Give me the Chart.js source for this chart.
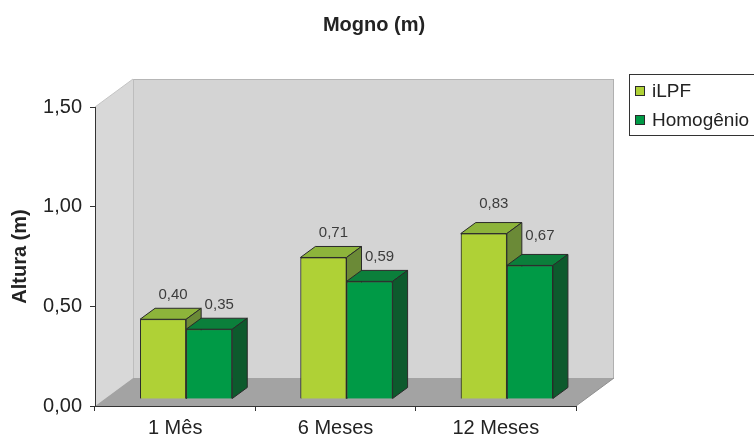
<!DOCTYPE html>
<html>
<head>
<meta charset="utf-8">
<script src="https://cdn.jsdelivr.net/npm/chart.js@4/dist/chart.umd.min.js"></script>
<style>
  html, body { margin: 0; padding: 0; background: #ffffff; overflow: hidden; }
  #wrap { width: 754px; height: 436px; position: relative; }
</style>
</head>
<body>
<div id="wrap"><canvas id="chart" width="754" height="436"></canvas></div>
<script>
// ---- data ----
const categories = ['1 Mês', '6 Meses', '12 Meses'];
const seriesNames = ['iLPF', 'Homogênio'];
const ilpfValues = [0.40, 0.71, 0.83];
const homogenioValues = [0.35, 0.59, 0.67];
const yTickValues = [0, 0.5, 1.0, 1.5];
const chartTitle = 'Mogno (m)';
const yAxisTitle = 'Altura (m)';

// ---- style ----
const FONT = "'Liberation Sans', Arial, Helvetica, sans-serif";
const TEXT = '#232323';
const EDGE = '#2a2a2a';
const WALL_DEPTH = { x: 38, y: -28 };   // depth of the box walls/floor
const BAR_SHIFT = { x: 11, y: -7 };     // bars sit a little behind the front plane
const BAR_DEPTH = { x: 15, y: -11 };    // depth of each bar block
const LABEL_LIFT = [24, 25, 30];        // label offset above each group's bars
const LABEL_NUDGE = 10;

const faces = [
  { front: '#afd136', top: '#8db43b', side: '#6b8a37' },
  { front: '#009a46', top: '#0b7f3b', side: '#0d5a2d' }
];

const fmt = v => v.toFixed(2).replace('.', ',');

function poly(ctx, pts, fill, stroke) {
  ctx.beginPath();
  ctx.moveTo(pts[0][0], pts[0][1]);
  for (let i = 1; i < pts.length; i++) ctx.lineTo(pts[i][0], pts[i][1]);
  ctx.closePath();
  if (fill) { ctx.fillStyle = fill; ctx.fill(); }
  if (stroke) { ctx.strokeStyle = stroke; ctx.lineWidth = 1; ctx.stroke(); }
}
function line(ctx, x1, y1, x2, y2, color) {
  ctx.beginPath();
  ctx.moveTo(x1, y1); ctx.lineTo(x2, y2);
  ctx.strokeStyle = color; ctx.lineWidth = 1; ctx.stroke();
}

// Back wall, side wall, floor and the 3-D bar blocks
const boxPlugin = {
  id: 'box3d',
  beforeDraw(chart) {
    const { ctx, chartArea: a } = chart;
    const dx = WALL_DEPTH.x, dy = WALL_DEPTH.y;
    ctx.save();
    ctx.fillStyle = '#d4d4d4';
    ctx.fillRect(a.left + dx, a.top + dy, a.right - a.left, a.bottom - a.top);
    poly(ctx, [[a.left, a.top], [a.left + dx, a.top + dy], [a.left + dx, a.bottom + dy], [a.left, a.bottom]], '#d8d8d8');
    poly(ctx, [[a.left, a.bottom], [a.left + dx, a.bottom + dy], [a.right + dx, a.bottom + dy], [a.right, a.bottom]], '#a3a3a3');
    line(ctx, a.left + dx, a.top + dy + 0.5, a.right + dx, a.top + dy + 0.5, '#b6b6b6');
    line(ctx, a.right + dx - 0.5, a.top + dy, a.right + dx - 0.5, a.bottom + dy, '#b0b0b0');
    line(ctx, a.left + dx + 0.5, a.top + dy, a.left + dx + 0.5, a.bottom + dy, '#bdbdbd');
    line(ctx, a.left, a.top, a.left + dx, a.top + dy, '#c4c4c4');
    line(ctx, a.right, a.bottom, a.right + dx, a.bottom + dy, '#8e8e8e');
    ctx.restore();
  },
  beforeDatasetsDraw(chart) {
    chart.ctx.save();
    chart.ctx.translate(BAR_SHIFT.x, BAR_SHIFT.y);
  },
  afterDatasetsDraw(chart) {
    const ctx = chart.ctx;
    const dx = BAR_DEPTH.x, dy = BAR_DEPTH.y;
    const metas = chart.data.datasets.map((ds, di) => chart.getDatasetMeta(di));
    // paint each group left-to-right so a bar's side face hides behind its neighbour
    categories.forEach((c, i) => {
      metas.forEach((meta, di) => {
        const bar = meta.data[i];
        const f = faces[di];
        const p = bar.getProps(['x', 'y', 'base', 'width'], true);
        const L = p.x - p.width / 2, R = p.x + p.width / 2, T = p.y, B = p.base;
        bar.draw(ctx);
        poly(ctx, [[L, T], [L + dx, T + dy], [R + dx, T + dy], [R, T]], f.top, EDGE);
        poly(ctx, [[R, T], [R + dx, T + dy], [R + dx, B + dy], [R, B]], f.side, EDGE);
      });
    });
    ctx.restore();

    ctx.save();
    ctx.font = '15px ' + FONT;
    ctx.fillStyle = '#3c3c3c';
    ctx.textAlign = 'center';
    ctx.textBaseline = 'middle';
    chart.data.datasets.forEach((ds, di) => {
      metas[di].data.forEach((bar, i) => {
        const p = bar.getProps(['x', 'y'], true);
        ctx.fillText(fmt(ds.data[i]), p.x + BAR_SHIFT.x + LABEL_NUDGE, p.y + BAR_SHIFT.y - LABEL_LIFT[i]);
      });
    });
    ctx.restore();
  },
  afterDraw(chart) {
    const ctx = chart.ctx;
    ctx.save();
    // title
    ctx.font = 'bold 20px ' + FONT;
    ctx.fillStyle = TEXT;
    ctx.textAlign = 'center';
    ctx.textBaseline = 'middle';
    ctx.fillText(chartTitle, 374, 25);
    // legend
    ctx.strokeStyle = '#333333';
    ctx.lineWidth = 1;
    ctx.strokeRect(629.5, 74.5, 140, 61);
    ctx.font = '19px ' + FONT;
    ctx.textAlign = 'left';
    chart.data.datasets.forEach((ds, i) => {
      const cy = 91 + i * 29;
      ctx.fillStyle = ds.backgroundColor;
      ctx.fillRect(636, cy - 4, 8, 8);
      ctx.strokeStyle = EDGE;
      ctx.strokeRect(635.5, cy - 4.5, 9, 9);
      ctx.fillStyle = TEXT;
      ctx.fillText(ds.label, 652, cy + 1);
    });
    ctx.restore();
  }
};

new Chart(document.getElementById('chart'), {
  type: 'bar',
  data: {
    labels: categories,
    datasets: [
      { label: seriesNames[0], data: ilpfValues, backgroundColor: faces[0].front,
        borderColor: EDGE, borderWidth: 1, clip: false },
      { label: seriesNames[1], data: homogenioValues, backgroundColor: faces[1].front,
        borderColor: EDGE, borderWidth: 1, clip: false }
    ]
  },
  options: {
    responsive: false,
    devicePixelRatio: 1,
    animation: false,
    layout: { padding: { left: 0, top: 107, right: 178, bottom: 0 } },
    datasets: { bar: { categoryPercentage: 0.575, barPercentage: 1 } },
    plugins: { legend: { display: false }, title: { display: false }, tooltip: { enabled: false } },
    scales: {
      x: {
        offset: true,
        grid: { display: true, drawOnChartArea: false, drawTicks: true, tickLength: 5, color: '#333333', offset: true },
        border: { display: true, color: '#333333', width: 1 },
        ticks: { font: { family: FONT, size: 20 }, color: TEXT, padding: 5, maxRotation: 0 },
        afterFit: s => { s.height = 30; }
      },
      y: {
        min: 0, max: 1.5,
        afterBuildTicks: s => { s.ticks = yTickValues.map(v => ({ value: v })); },
        ticks: { font: { family: FONT, size: 20 }, color: TEXT, padding: 8, callback: v => fmt(v) },
        grid: { display: true, drawOnChartArea: false, drawTicks: true, tickLength: 5, color: '#333333' },
        border: { display: true, color: '#333333', width: 1 },
        title: { display: true, text: yAxisTitle, color: TEXT, font: { family: FONT, size: 20, weight: 'bold' }, padding: { top: 8, bottom: 0 } },
        afterFit: s => { s.width = 95; }
      }
    }
  },
  plugins: [boxPlugin]
});
</script>
</body>
</html>
